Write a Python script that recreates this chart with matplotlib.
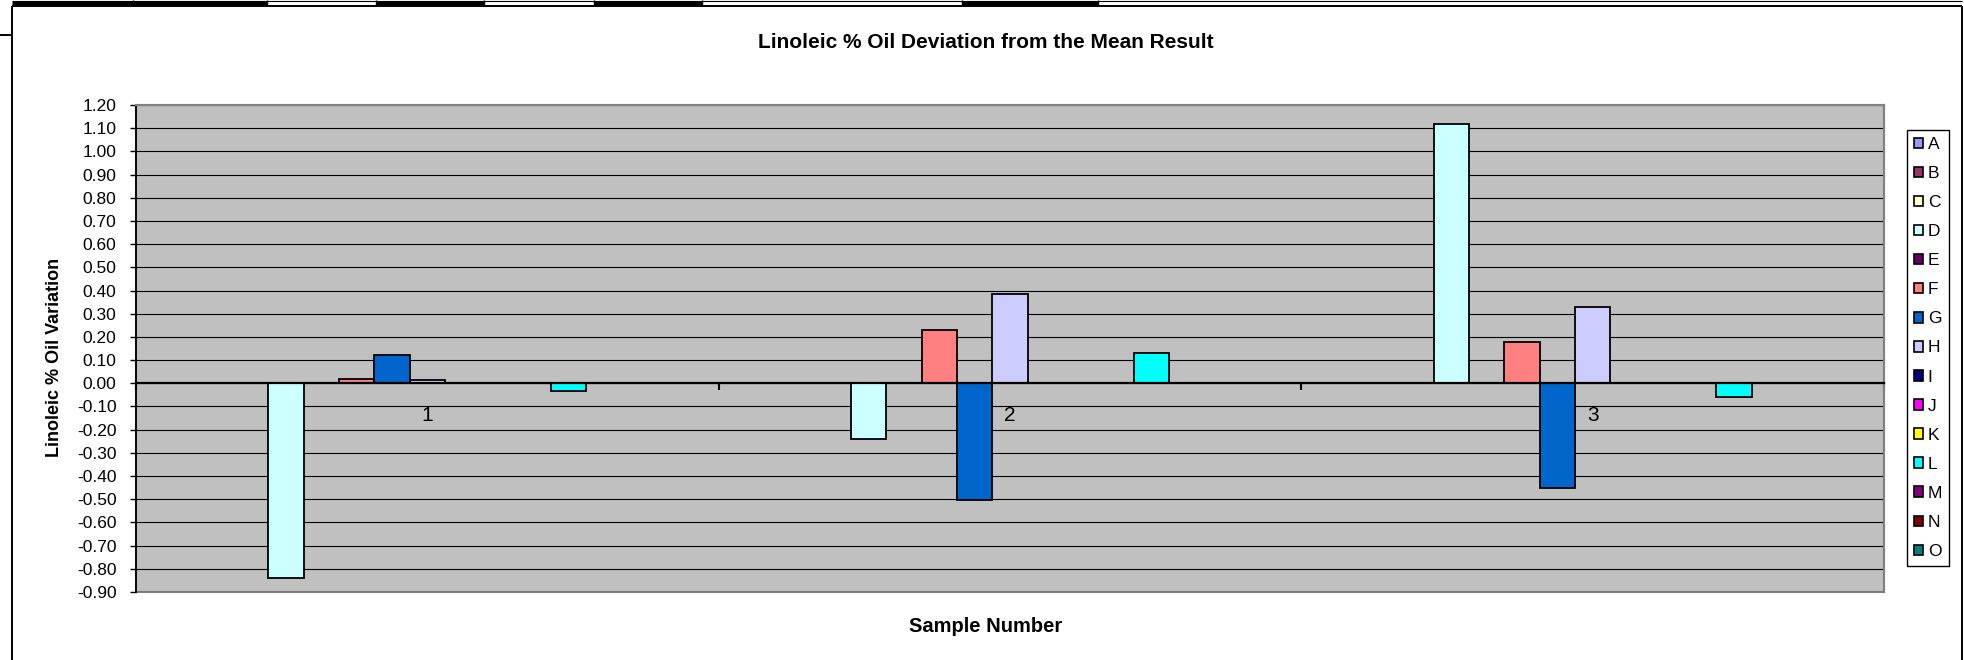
""" Linoleic % oil deviation bar chart """
import matplotlib
matplotlib.use("Agg")
import matplotlib.pyplot as plt
import numpy as np
from matplotlib.lines import Line2D
from matplotlib.patches import Rectangle

plt.rcParams['font.family'] = ['Liberation Sans', 'DejaVu Sans']

""" Data """
categories = ['1', '2', '3']
series = ['A', 'B', 'C', 'D', 'E', 'F', 'G', 'H', 'I', 'J', 'K', 'L', 'M', 'N', 'O']
colors = ['#9999FF', '#993366', '#FFFFCC', '#CCFFFF', '#660066', '#FF8080', '#0066CC',
          '#CCCCFF', '#000080', '#FF00FF', '#FFFF00', '#00FFFF', '#800080', '#800000', '#008080']
nan = np.nan
values = [
    [nan, nan, nan],        # A
    [nan, nan, nan],        # B
    [nan, nan, nan],        # C
    [-0.84, -0.24, 1.12],   # D
    [nan, nan, nan],        # E
    [0.017, 0.23, 0.18],    # F
    [0.12, -0.505, -0.45],  # G
    [0.015, 0.385, 0.33],   # H
    [nan, nan, nan],        # I
    [nan, nan, nan],        # J
    [nan, nan, nan],        # K
    [-0.035, 0.13, -0.06],  # L
    [nan, nan, nan],        # M
    [nan, nan, nan],        # N
    [nan, nan, nan],        # O
]
yticks = np.round(np.arange(-0.9, 1.21, 0.1), 2)

W, H = 1965, 660
fig = plt.figure(figsize=(W / 100, H / 100), dpi=100)

def fx(px):
    return px / W

def fy(py):
    return 1 - py / H

ax = fig.add_axes([fx(136), fy(592), fx(1884) - fx(136), fy(105) - fy(592)])
ax.set_facecolor('#C0C0C0')

x = np.arange(len(categories))
bw = 1 / 16.5
handles = []
for i, name in enumerate(series):
    b = ax.bar(x + (i - 7) * bw, values[i], bw, color=colors[i], edgecolor='black',
               linewidth=1.3, label=name, zorder=3)
    handles.append(b)

ax.set_xlim(-0.5, 2.5)
ax.set_ylim(-0.9, 1.2)
ax.set_yticks(yticks)
ax.set_yticklabels([('%.2f' % v).replace('-0.00', '0.00') for v in yticks], fontsize=12.5)
ax.yaxis.grid(True, color='black', linewidth=0.8, zorder=1)
ax.set_axisbelow(True)
ax.tick_params(axis='y', direction='out', length=4, width=1, pad=10)

# category axis crosses at zero
ax.spines['bottom'].set_position(('data', 0))
ax.spines['bottom'].set_linewidth(1.6)
ax.spines['bottom'].set_zorder(4)
ax.spines['left'].set_linewidth(1.3)
for s in ['top', 'right']:
    ax.spines[s].set_color('#808080')
    ax.spines[s].set_linewidth(1.5)
ax.add_patch(Rectangle((0, 0), 1, 1, transform=ax.transAxes, fill=False,
                       edgecolor='#808080', linewidth=1.5, clip_on=False, zorder=0.5))
ax.set_xticks([-0.5, 0.5, 1.5, 2.5])
ax.set_xticklabels([])
ax.set_xticks(x, minor=True)
ax.set_xticklabels(categories, minor=True, fontsize=15)
ax.tick_params(axis='x', which='major', direction='out', length=5, width=1.5)
ax.tick_params(axis='x', which='minor', length=0, pad=16)

ax.set_ylabel('Linoleic % Oil Variation', fontsize=13, fontweight='bold')
ax.yaxis.set_label_coords(fx(63), fy(357), transform=fig.transFigure)

fig.text(fx(986), fy(43), 'Linoleic % Oil Deviation from the Mean Result',
         ha='center', va='center', fontsize=15, fontweight='bold')
fig.text(fx(986), fy(627), 'Sample Number', ha='center', va='center',
         fontsize=14.5, fontweight='bold')

leg = ax.legend(handles=handles, loc='center', bbox_to_anchor=(fx(1928), fy(348)),
                bbox_transform=fig.transFigure, fontsize=12.5, handlelength=0.55,
                handleheight=0.55, handletextpad=0.25, labelspacing=0.81, borderpad=0.4,
                borderaxespad=0, frameon=True, fancybox=False, edgecolor='black',
                framealpha=1)
leg.get_frame().set_linewidth(1.0)
for p in leg.get_patches():
    p.set_linewidth(1.2)

""" Chart / sheet border lines """
def fline(x0, y0, x1, y1, lw):
    fig.add_artist(Line2D([fx(x0), fx(x1)], [fy(y0), fy(y1)], color='black',
                          linewidth=lw, transform=fig.transFigure, solid_capstyle='butt'))

fline(12, 6, 1962, 6, 1.4)
fline(12, 6, 12, 660, 1.4)
fline(1962, 6, 1962, 660, 1.4)
fline(0, 35, 12, 35, 1.4)
fline(12, 0.5, 1962, 0.5, 0.8)
for a, b in [(12, 267), (376, 484), (594, 702), (962, 1098)]:
    fline(a, 3, b, 3, 2.2)
for c in [133, 267, 376, 484, 594, 702, 962, 1098]:
    fline(c, 0, c, 5, 1.0)

fig.savefig('out.png', dpi=100)
